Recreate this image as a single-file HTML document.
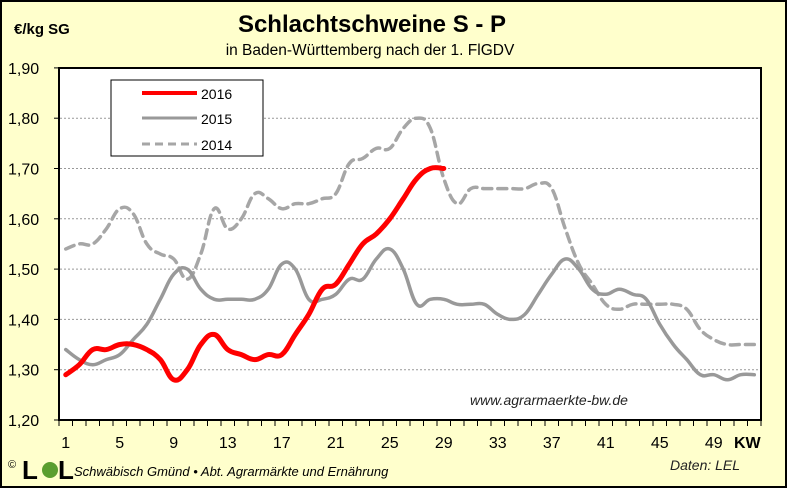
<!DOCTYPE html>
<html><head><meta charset="utf-8"><style>
body{margin:0;width:787px;height:488px;overflow:hidden;background:#fff}
svg{display:block;font-family:"Liberation Sans",sans-serif}
</style></head><body>
<svg id="s" width="787" height="488" xmlns="http://www.w3.org/2000/svg">
<rect x="1" y="1" width="785" height="486" fill="#FFFFCC" stroke="#000" stroke-width="2"/>
<rect x="59" y="68" width="702" height="352" fill="#fff" stroke="#000" stroke-width="2"/>
<g id="grid" stroke="#999" stroke-width="1" stroke-dasharray="2,2"></g>
<g id="ticks" stroke="#000" stroke-width="1"></g>
<g id="lab" font-size="16" fill="#000"></g>
<text x="14" y="34" font-size="15" font-weight="bold">€/kg SG</text>
<text x="372" y="32" font-size="24" font-weight="bold" text-anchor="middle">Schlachtschweine S - P</text>
<text x="370" y="55" font-size="15.5" text-anchor="middle">in Baden-Württemberg nach der 1. FlGDV</text>
<rect x="111" y="80" width="152" height="76" fill="#fff" stroke="#000" stroke-width="1"/>
<line x1="142" y1="93" x2="197" y2="93" stroke="#f00" stroke-width="4"/>
<line x1="142" y1="118" x2="197" y2="118" stroke="#999" stroke-width="3"/>
<line x1="142" y1="144" x2="197" y2="144" stroke="#a6a6a6" stroke-width="3" stroke-dasharray="8,5"/>
<text x="201" y="99" font-size="14">2016</text>
<text x="201" y="124" font-size="14">2015</text>
<text x="201" y="150" font-size="14">2014</text>
<g id="series" fill="none" stroke-linejoin="round" stroke-linecap="round"></g>
<text x="470" y="405" font-size="14" font-style="italic" fill="#222">www.agrarmaerkte-bw.de</text>
<text x="734" y="448" font-size="16" font-weight="bold">KW</text>
<text x="8" y="468" font-size="11">©</text>
<text x="22" y="479" font-size="26" font-weight="bold" fill="#000">L</text>
<circle cx="50" cy="470" r="8" fill="#5a9e2f"/>
<text x="58" y="479" font-size="26" font-weight="bold" fill="#000">L</text>
<text x="74" y="476" font-size="13" font-style="italic">Schwäbisch Gmünd • Abt. Agrarmärkte und Ernährung</text>
<text x="670" y="470" font-size="14" font-style="italic" fill="#222">Daten: LEL</text>
</svg>
<script>
var ns="http://www.w3.org/2000/svg";
function el(p,t,a,txt){var e=document.createElementNS(ns,t);for(var k in a)e.setAttribute(k,a[k]);if(txt)e.textContent=txt;document.getElementById(p).appendChild(e);}
function Y(v){return 420-(v-1.2)*503;}
function X(w){return 59+(w-0.5)*13.5;}
for(var i=1;i<7;i++){var v=1.2+i*0.1;el("grid","line",{x1:60,x2:760,y1:Y(v),y2:Y(v)});}
for(var i=0;i<8;i++){var v=1.2+i*0.1;el("lab","text",{x:8,y:Y(v)+6},v.toFixed(2).replace(".",","));el("ticks","line",{x1:54,x2:59,y1:Y(v),y2:Y(v)});}
for(var i=0;i<=52;i++){var x=59+i*13.5;el("ticks","line",{x1:x,x2:x,y1:420,y2:426});}
for(var w=1;w<=49;w+=4)el("lab","text",{x:X(w),y:448,"text-anchor":"middle"},w);
var d14=[1.54,1.55,1.55,1.58,1.62,1.61,1.55,1.53,1.52,1.48,1.53,1.62,1.58,1.60,1.65,1.64,1.62,1.63,1.63,1.64,1.65,1.71,1.72,1.74,1.74,1.78,1.80,1.78,1.68,1.63,1.66,1.66,1.66,1.66,1.66,1.67,1.66,1.58,1.51,1.47,1.43,1.42,1.43,1.43,1.43,1.43,1.42,1.38,1.36,1.35,1.35,1.35];
var d15=[1.34,1.32,1.31,1.32,1.33,1.36,1.39,1.44,1.49,1.50,1.46,1.44,1.44,1.44,1.44,1.46,1.51,1.50,1.44,1.44,1.45,1.48,1.48,1.52,1.54,1.50,1.43,1.44,1.44,1.43,1.43,1.43,1.41,1.40,1.41,1.45,1.49,1.52,1.50,1.46,1.45,1.46,1.45,1.44,1.39,1.35,1.32,1.29,1.29,1.28,1.29,1.29];
var d16=[1.29,1.31,1.34,1.34,1.35,1.35,1.34,1.32,1.28,1.30,1.35,1.37,1.34,1.33,1.32,1.33,1.33,1.37,1.41,1.46,1.47,1.51,1.55,1.57,1.60,1.64,1.68,1.70,1.70];
function path(d){var p=d.map(function(v,i){return [X(i+1),Y(v)]});var s="M"+p[0][0]+","+p[0][1];var t=0.2;
for(var i=0;i<p.length-1;i++){var a=p[i-1]||p[i],b=p[i],c=p[i+1],e=p[i+2]||c;
s+=" C"+(b[0]+(c[0]-a[0])*t).toFixed(1)+","+(b[1]+(c[1]-a[1])*t).toFixed(1)+" "+(c[0]-(e[0]-b[0])*t).toFixed(1)+","+(c[1]-(e[1]-b[1])*t).toFixed(1)+" "+c[0].toFixed(1)+","+c[1].toFixed(1);}
return s;}
el("series","path",{d:path(d14),stroke:"#a6a6a6","stroke-width":3.5,"stroke-dasharray":"9,6"});
el("series","path",{d:path(d15),stroke:"#999","stroke-width":3.5});
el("series","path",{d:path(d16),stroke:"#f00","stroke-width":5});
</script>
</body></html>
